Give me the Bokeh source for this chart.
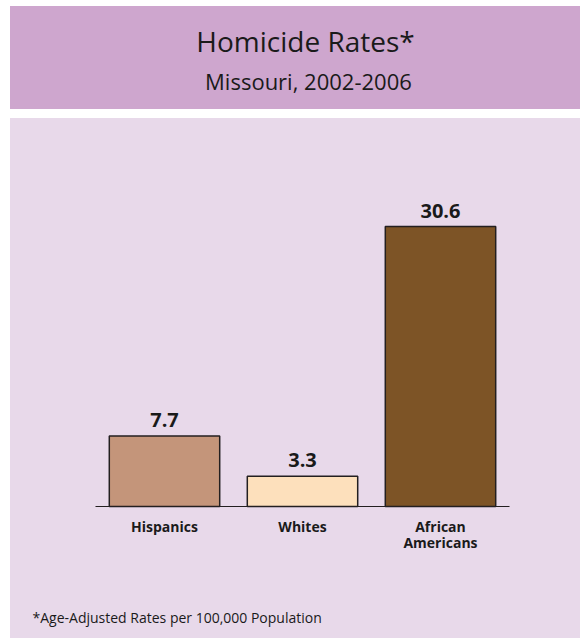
from bokeh.plotting import figure
from bokeh.models import ColumnDataSource, Range1d, FactorRange
from bokeh.core.properties import value
from bokeh.embed import file_html
from bokeh.resources import INLINE

# ---- data ----
categories = ["Hispanics", "Whites", "African\nAmericans"]
rates = [7.7, 3.3, 30.6]
rate_labels = ["7.7", "3.3", "30.6"]
bar_colors = ["#c4957a", "#fde0bc", "#7d5426"]
title_text = "Homicide Rates*"
subtitle_text = "Missouri, 2002-2006"
footnote_text = "*Age-Adjusted Rates per 100,000 Population"

BAND = "#cea6ce"
PANEL = "#e8d9ea"
FONT = "Open Sans"
INK = "#1a1a1a"

page_bg = (
    "linear-gradient(to right, #ffffff 0px, #ffffff 10px, transparent 10px), "
    f"linear-gradient(to bottom, #ffffff 0px, #ffffff 6px, {BAND} 6px, {BAND} 109px, "
    f"#ffffff 109px, #ffffff 118px, {PANEL} 118px, {PANEL} 100%)"
)

# layout constants (pixels)
W, H = 580, 638
BASE_PX = 506          # page y of the zero line
PX_PER_UNIT = 9.147    # vertical scale
FRAME_LEFT = 24
FACTOR_PX = 138        # width of one category slot

src = ColumnDataSource(dict(cat=categories, rate=rates, label=rate_labels, color=bar_colors))

x_range = FactorRange(*categories, range_padding=((W - FRAME_LEFT) / FACTOR_PX - len(categories)) / 2,
                      range_padding_units="absolute")
y_range = Range1d(-(H - BASE_PX) / PX_PER_UNIT, BASE_PX / PX_PER_UNIT)

p = figure(width=W, height=H, x_range=x_range, y_range=y_range,
           x_axis_location=None, y_axis_location=None, output_backend="svg",
           toolbar_location=None, min_border_left=FRAME_LEFT, min_border_right=0,
           min_border_top=0, min_border_bottom=0, styles={"background": page_bg})
p.xgrid.visible = False
p.ygrid.visible = False
p.outline_line_color = None
p.background_fill_color = None
p.border_fill_color = None

# bars and value labels
p.vbar(x="cat", top="rate", width=0.8, fill_color="color", line_color="#231f20",
       line_width=1.5, source=src)
p.text(x="cat", y="rate", text="label", text_align="center", text_baseline="middle",
       y_offset=-16, text_font=value(FONT), text_font_style="bold", text_font_size="20px",
       text_color=INK, source=src)

# baseline (category axis line) and category labels
p.segment(x0=[0], y0=[0], x1=[len(categories)], y1=[0], line_color="#231f20", line_width=1.2)
p.text(x="cat", y=0, text="cat", text_align="center", text_baseline="top", y_offset=10,
       text_font=value(FONT), text_font_style="bold", text_font_size="14px",
       text_line_height=0.89, text_color=INK, source=src)

# header and footnote texts (positions in the chart's own coordinates)
p.text(x=[1.522], y=[(BASE_PX - 40) / PX_PER_UNIT], text=[title_text], text_align="center",
       text_baseline="middle", text_font=value(FONT), text_font_size="28px", text_color=INK)
p.text(x=[1.543], y=[(BASE_PX - 80.5) / PX_PER_UNIT], text=[subtitle_text], text_align="center",
       text_baseline="middle", text_font=value(FONT), text_font_size="22px", text_color=INK)
p.text(x=[(32 - 95) / FACTOR_PX], y=[(BASE_PX - 617) / PX_PER_UNIT], text=[footnote_text],
       text_align="left", text_baseline="middle", text_font=value(FONT),
       text_font_size="14px", text_color=INK)

open("out.html", "w").write(file_html(p, INLINE))
